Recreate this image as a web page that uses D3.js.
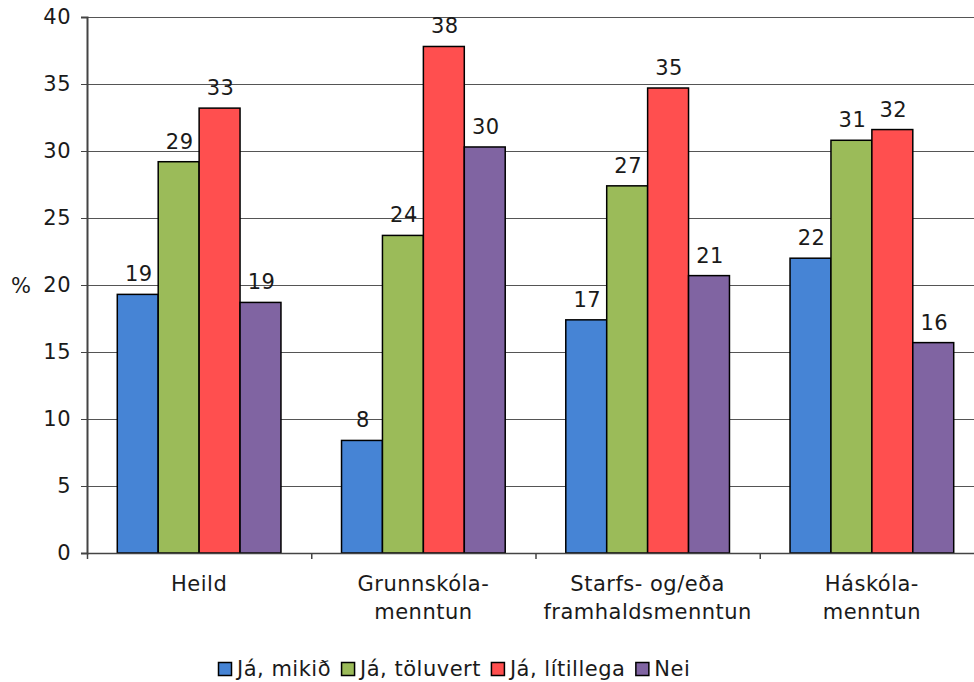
<!DOCTYPE html>
<html>
<head>
<meta charset="utf-8">
<script src="https://cdn.jsdelivr.net/npm/d3@7"></script>
<style>
  html, body { margin: 0; padding: 0; background: #fff; }
  svg text { font-family: "DejaVu Sans", Verdana, sans-serif; font-size: 21px; letter-spacing: 0.5px; fill: #1a1a1a; }
</style>
</head>
<body>
<svg id="chart" width="974" height="682"></svg>
<script>
// Education groups (two-line labels)
const categories = [
  ["Heild"],
  ["Grunnskóla-", "menntun"],
  ["Starfs- og/eða", "framhaldsmenntun"],
  ["Háskóla-", "menntun"]
];
const seriesNames = ["Já, mikið", "Já, töluvert", "Já, lítillega", "Nei"];
const seriesColors = ["#4684D5", "#9BBB59", "#FF4F4F", "#8064A2"];

// Percent per series, one entry per education group
const jaMikid     = [19.3,  8.4, 17.4, 22.0];
const jaToluvert  = [29.2, 23.7, 27.4, 30.8];
const jaLitillega = [33.2, 37.8, 34.7, 31.6];
const nei         = [18.7, 30.3, 20.7, 15.7];
const seriesValues = [jaMikid, jaToluvert, jaLitillega, nei];

const yTicks = [0, 5, 10, 15, 20, 25, 30, 35, 40];

const svg = d3.select("#chart");
const plotLeft = 87, plotRight = 984, plotTop = 17, plotBottom = 553;

const x = d3.scaleBand().domain(d3.range(categories.length)).range([plotLeft, plotRight]).paddingInner(0).paddingOuter(0);
const inner = d3.scaleBand().domain(d3.range(seriesNames.length)).range([0, x.bandwidth()]).paddingOuter(0.74).paddingInner(0);
const y = d3.scaleLinear().domain([0, 40]).range([plotBottom, plotTop]);

// Horizontal gridlines
svg.append("g").selectAll("line").data(yTicks.filter(d => d > 0)).join("line")
  .attr("x1", plotLeft).attr("x2", 974)
  .attr("y1", d => Math.round(y(d)) + 0.5).attr("y2", d => Math.round(y(d)) + 0.5)
  .attr("stroke", "#555").attr("stroke-width", 1);

// Bars
const groups = svg.append("g").selectAll("g").data(categories).join("g")
  .attr("transform", (d, i) => `translate(${x(i)},0)`);
groups.each(function(c, ci) {
  const g = d3.select(this);
  const vals = seriesValues.map((s, si) => ({ si, v: s[ci] }));
  g.selectAll("rect").data(vals).join("rect")
    .attr("x", d => inner(d.si))
    .attr("width", inner.bandwidth())
    .attr("y", d => y(d.v))
    .attr("height", d => y(0) - y(d.v))
    .attr("fill", d => seriesColors[d.si])
    .attr("stroke", "#000").attr("stroke-width", 1.5);
  g.selectAll("text.val").data(vals).join("text")
    .attr("class", "val")
    .attr("x", d => inner(d.si) + inner.bandwidth() / 2 + 1)
    .attr("y", d => y(d.v) - 13)
    .attr("text-anchor", "middle")
    .text(d => d3.format(".0f")(d.v));
});

// Y axis
const yAxis = svg.append("g").attr("transform", `translate(${plotLeft},0)`)
  .call(d3.axisLeft(y).tickValues(yTicks).tickSize(6).tickPadding(10));
yAxis.select(".domain").attr("stroke", "#444").attr("stroke-width", 2);
yAxis.selectAll(".tick line").attr("stroke", "#444");
yAxis.selectAll("text").attr("fill", "#1a1a1a").style("font-size", "21px")
  .style("font-family", "'DejaVu Sans', Verdana, sans-serif");

// X axis baseline with category separators
const xAxis = svg.append("g").attr("transform", `translate(0,${plotBottom})`)
  .call(d3.axisBottom(x).tickValues([]).tickSizeOuter(0));
xAxis.select(".domain").attr("stroke", "#444").attr("stroke-width", 1.5);
svg.append("g").selectAll("line").data(d3.range(categories.length)).join("line")
  .attr("x1", d => x(d) + 0.5).attr("x2", d => x(d) + 0.5)
  .attr("y1", plotBottom).attr("y2", plotBottom + 6)
  .attr("stroke", "#444").attr("stroke-width", 1.5);

// Category labels
svg.append("g").selectAll("text").data(categories).join("text")
  .attr("text-anchor", "middle")
  .attr("transform", (d, i) => `translate(${x(i) + x.bandwidth() / 2},591)`)
  .each(function(lines) {
    d3.select(this).selectAll("tspan").data(lines).join("tspan")
      .attr("x", 0).attr("y", (d, k) => k * 28).text(d => d);
  });

// Axis title
svg.append("text").attr("x", 11).attr("y", 293).text("%");

// Legend
const legend = svg.append("g");
let lx = 218;
seriesNames.forEach((name, i) => {
  legend.append("rect").attr("x", lx + 0.5).attr("y", 662.5).attr("width", 13).attr("height", 13)
    .attr("fill", seriesColors[i]).attr("stroke", "#000").attr("stroke-width", 1.5);
  const t = legend.append("text").attr("x", lx + 19).attr("y", 676).text(name);
  lx += 19 + t.node().getComputedTextLength() + 10;
});
</script>
</body>
</html>
